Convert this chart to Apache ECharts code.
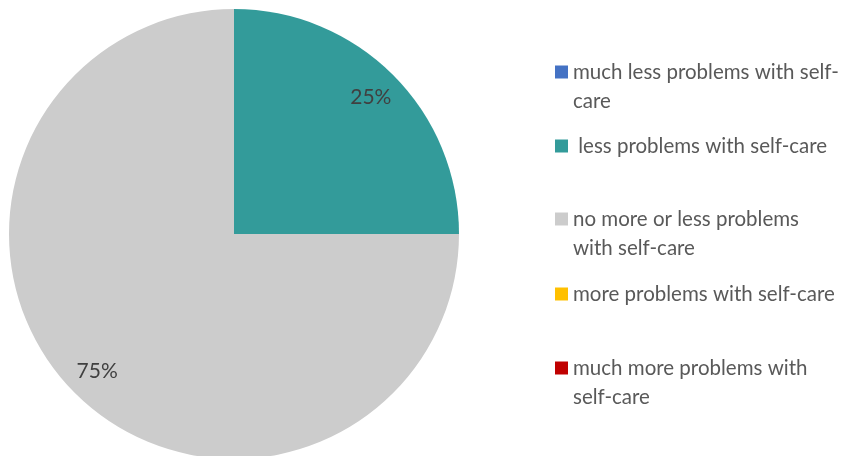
<!DOCTYPE html>
<html>
<head>
<meta charset="utf-8">
<script src="https://cdn.jsdelivr.net/npm/echarts@6/dist/echarts.min.js"></script>
<style>
  html, body { margin: 0; padding: 0; background: #fff; }
  #chart { width: 866px; height: 456px; }
</style>
</head>
<body>
<div id="chart"></div>
<script>
// Self-care change categories and their share of responses (%)
const categories = [
  'much less problems with self-\ncare',
  ' less problems with self-care',
  'no more or less problems\nwith self-care',
  'more problems with self-care',
  'much more problems with\nself-care'
];
const shares = [0, 25, 75, 0, 0];
const colors = ['#4472C4', '#339B9A', '#CCCCCC', '#FFC000', '#C00000'];

const FONT = 'Lato, "Open Sans", sans-serif';
const LINE_H = 29;
const legendCenters = [72, 146, 219, 294, 368];

const pieData = categories.map((name, i) => ({
  name: name,
  value: shares[i],
  itemStyle: { color: colors[i] }
}));

// One legend block per category so that rows sit on an even pitch.
// Wrapped names get a blank leading line so the swatch lines up with the first line.
const legends = categories.map((name, i) => {
  const twoLines = name.indexOf('\n') >= 0;
  return {
    data: [name],
    orient: 'vertical',
    left: 555,
    top: twoLines ? legendCenters[i] - 1.5 * LINE_H : legendCenters[i] - LINE_H / 2,
    itemWidth: 13,
    itemHeight: 13,
    itemGap: 0,
    padding: 0,
    selectedMode: false,
    icon: 'rect',
    formatter: n => (n.indexOf('\n') >= 0 ? '\n' + n : n),
    textStyle: {
      fontFamily: FONT,
      fontSize: 20.5,
      color: '#595959',
      lineHeight: LINE_H
    }
  };
});

const chart = echarts.init(document.getElementById('chart'));
chart.setOption({
  animation: false,
  legend: legends,
  series: [
    {
      type: 'pie',
      center: [234, 234],
      radius: [0, 225],
      startAngle: 90,
      clockwise: true,
      silent: true,
      label: { show: false },
      labelLine: { show: false },
      itemStyle: { borderWidth: 0 },
      data: pieData
    },
    {
      // transparent ring carrying the percentage labels
      type: 'pie',
      center: [234, 234],
      radius: [156, 225],
      startAngle: 90,
      clockwise: true,
      silent: true,
      legendHoverLink: false,
      itemStyle: { color: 'rgba(0,0,0,0)', borderWidth: 0 },
      label: {
        show: true,
        position: 'inside',
        fontFamily: FONT,
        fontSize: 21,
        color: '#404040',
        formatter: p => (p.value > 0 ? p.value + '%' : '')
      },
      labelLine: { show: false },
      data: categories.map((name, i) => ({ name: name, value: shares[i] }))
    }
  ]
});
</script>
</body>
</html>
